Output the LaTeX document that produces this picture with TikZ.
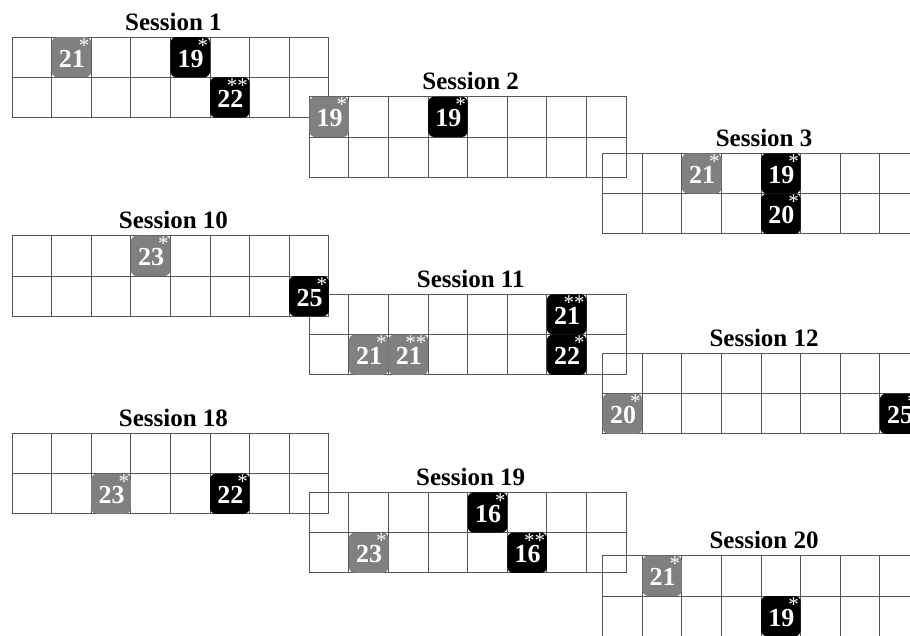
\documentclass[tikz,border=0pt]{standalone}
\usepackage{fontspec}
\setmainfont{Liberation Serif}
\definecolor{tilegray}{RGB}{128,128,128}
\definecolor{gridcol}{RGB}{85,85,85}
\def\cw{39.6}
\def\ch{40.3}
\tikzset{
  gridline/.style={draw=gridcol, line width=0.9pt},
  sesstitle/.style={anchor=base, inner sep=0pt, font=\fontsize{25}{30}\selectfont\bfseries},
  tilebox/.style={rounded corners=6pt, minimum width=\cw pt, minimum height=\ch pt, inner sep=0pt, draw=none},
  graytile/.style={tilebox, fill=tilegray},
  blacktile/.style={tilebox, fill=black},
  tilenum/.style={anchor=base, inner sep=0pt, text=white, font=\fontsize{26}{30}\selectfont\bfseries},
  tilestar/.style={anchor=base east, inner sep=0pt, text=white, font=\fontsize{21}{21}\selectfont},
}
% #1 name, #2 x, #3 y, #4 title
\newcommand\sessgrid[4]{%
  \begin{scope}[shift={(#2,#3)}]
    \draw[gridline] (0,0) rectangle (8*\cw, 2*\ch);
    \draw[gridline] (0,\ch) -- (8*\cw,\ch);
    \foreach \i in {1,...,7} {\draw[gridline] (\i*\cw,0) -- (\i*\cw,2*\ch);}
    \node[sesstitle] (#1) at (4*\cw+3,-7) {#4};
  \end{scope}}
% #1 name, #2 x, #3 y, #4 col, #5 row, #6 style, #7 number, #8 stars
\newcommand\sesstile[8]{%
  \begin{scope}[shift={(#2,#3)}]
    \node[#6] (#1) at ({(#4+0.5)*\cw},{(#5+0.5)*\ch}) {};
    \node[tilenum] (#1n) at ({(#4+0.5)*\cw+0.5},{(#5+0.5)*\ch+10}) {#7};
    \node[tilestar] (#1s) at ({#4*\cw+38},{#5*\ch+15}) {#8};
  \end{scope}}
\begin{document}
\begin{tikzpicture}[x=1pt,y=-1pt]
\useasboundingbox (0,0) rectangle (910,635);
\clip (0,0) rectangle (910,635);
\fill[white] (0,0) rectangle (910,635);
% grids
\sessgrid{s1}{12}{37}{Session 1}
\sessgrid{s2}{309.3}{96.7}{Session 2}
\sessgrid{s3}{602.7}{153.3}{Session 3}
\sessgrid{s10}{12}{235.7}{Session 10}
\sessgrid{s11}{309.3}{294.3}{Session 11}
\sessgrid{s12}{602.7}{353.3}{Session 12}
\sessgrid{s18}{12}{433.3}{Session 18}
\sessgrid{s19}{309.3}{492.3}{Session 19}
\sessgrid{s20}{602.7}{555.7}{Session 20}
% tiles
\sesstile{a1}{12}{37}{1}{0}{graytile}{21}{*}
\sesstile{a2}{12}{37}{4}{0}{blacktile}{19}{*}
\sesstile{a3}{12}{37}{5}{1}{blacktile}{22}{**}
\sesstile{b1}{309.3}{96.7}{0}{0}{graytile}{19}{*}
\sesstile{b2}{309.3}{96.7}{3}{0}{blacktile}{19}{*}
\sesstile{c1}{602.7}{153.3}{2}{0}{graytile}{21}{*}
\sesstile{c2}{602.7}{153.3}{4}{0}{blacktile}{19}{*}
\sesstile{c3}{602.7}{153.3}{4}{1}{blacktile}{20}{*}
\sesstile{d1}{12}{235.7}{3}{0}{graytile}{23}{*}
\sesstile{d2}{12}{235.7}{7}{1}{blacktile}{25}{*}
\sesstile{e1}{309.3}{294.3}{6}{0}{blacktile}{21}{**}
\sesstile{e2}{309.3}{294.3}{6}{1}{blacktile}{22}{*}
\sesstile{e3}{309.3}{294.3}{1}{1}{graytile}{21}{*}
\sesstile{e4}{309.3}{294.3}{2}{1}{graytile}{21}{**}
\sesstile{f1}{602.7}{353.3}{0}{1}{graytile}{20}{*}
\sesstile{f2}{602.7}{353.3}{7}{1}{blacktile}{25}{*}
\sesstile{g1}{12}{433.3}{2}{1}{graytile}{23}{*}
\sesstile{g2}{12}{433.3}{5}{1}{blacktile}{22}{*}
\sesstile{h1}{309.3}{492.3}{4}{0}{blacktile}{16}{*}
\sesstile{h2}{309.3}{492.3}{5}{1}{blacktile}{16}{**}
\sesstile{h3}{309.3}{492.3}{1}{1}{graytile}{23}{*}
\sesstile{i1}{602.7}{555.7}{1}{0}{graytile}{21}{*}
\sesstile{i2}{602.7}{555.7}{4}{1}{blacktile}{19}{*}
\end{tikzpicture}
\end{document}
